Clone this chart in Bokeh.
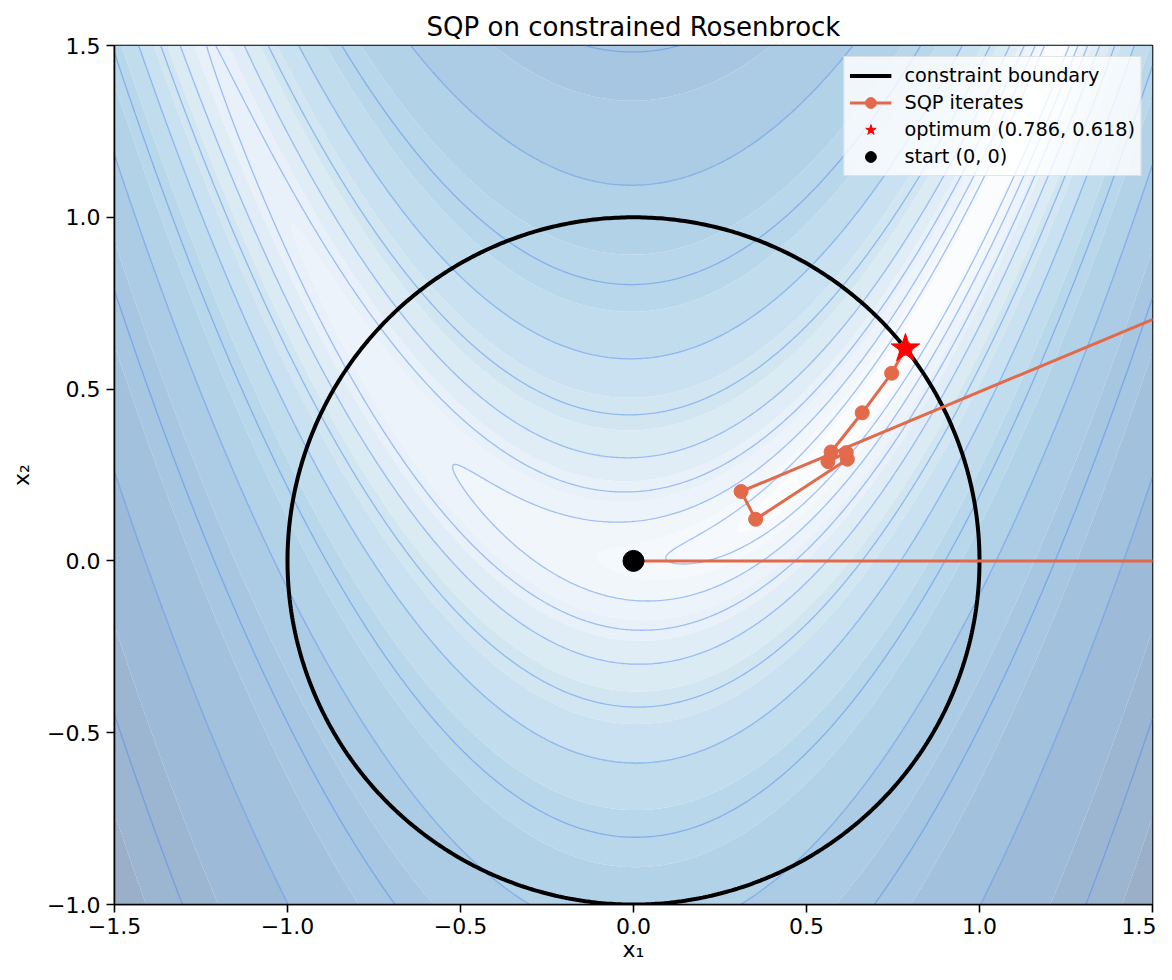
import numpy as np
from bokeh.plotting import figure
from bokeh.models import Range1d, FixedTicker, CustomJSTickFormatter, Legend, LegendItem
from bokeh.palettes import Blues256
from bokeh.embed import file_html
from bokeh.resources import INLINE

# ---- data ----
sqp_x = [0.0, 2.0, 2.0, 0.311, 0.353, 0.618, 0.615, 0.562, 0.571, 0.661, 0.746, 0.786]
sqp_y = [0.0, 0.0, 0.913, 0.202, 0.121, 0.296, 0.315, 0.289, 0.317, 0.431, 0.546, 0.618]
opt_x = [0.786]
opt_y = [0.618]
start_x = [0.0]
start_y = [0.0]
x_ticks = [-1.5, -1.0, -0.5, 0.0, 0.5, 1.0, 1.5]
y_ticks = [-1.0, -0.5, 0.0, 0.5, 1.0, 1.5]
fill_levels = list(np.round(np.arange(0.0, 7.2001, 0.4), 3))
line_levels = list(np.round(np.arange(0.6, 6.6001, 0.6), 3))
alpha = 0.4

# Rosenbrock objective on a grid (log scale)
gx = np.linspace(-1.5, 1.5, 500)
gy = np.linspace(-1.0, 1.5, 500)
GX, GY = np.meshgrid(gx, gy)
Z = np.log1p((1 - GX) ** 2 + 100 * (GY - GX ** 2) ** 2)

# band colours: matplotlib-like Blues, blended with white at alpha
blues = list(Blues256)[::-1]  # light -> dark
def hex2rgb(h):
    h = h.lstrip('#')
    return tuple(int(h[i:i + 2], 16) for i in (0, 2, 4))
band_colors = []
lo, hi = fill_levels[0], fill_levels[-1]
for i in range(len(fill_levels) - 1):
    mid = 0.5 * (fill_levels[i] + fill_levels[i + 1])
    t = (mid - lo) / (hi - lo)
    r, g, b = hex2rgb(blues[int(round(t * 255))])
    rr = round(255 - (255 - r) * alpha)
    gg = round(255 - (255 - g) * alpha)
    bb = round(255 - (255 - b) * alpha)
    band_colors.append('#%02x%02x%02x' % (rr, gg, bb))

FONT = "DejaVu Sans"

p = figure(width=1156, height=964, output_backend="svg", toolbar_location=None,
           x_range=Range1d(-1.5, 1.5), y_range=Range1d(-1.0, 1.5),
           min_border_left=114, min_border_right=4, min_border_top=45, min_border_bottom=54,
           title="SQP on constrained Rosenbrock")
p.title.align = "center"
p.title.text_font = FONT
p.title.text_font_size = "26px"
p.title.text_font_style = "normal"
p.title.text_color = "black"
p.title.standoff = 8
p.grid.visible = False
p.outline_line_color = "black"
p.outline_line_width = 1.6
p.outline_line_alpha = 1.0

p.contour(gx, gy, Z, fill_levels, fill_color=band_colors)
p.contour(gx, gy, Z, line_levels, line_color="#4d8af0", line_alpha=0.5, line_width=1.3)

theta = np.linspace(0, 2 * np.pi, 721)
r_circ = p.line(np.cos(theta), np.sin(theta), line_color="black", line_width=4)

orange = "#e2694a"
r_path = p.line(sqp_x, sqp_y, line_color=orange, line_width=3)
r_dots = p.scatter(sqp_x, sqp_y, marker="circle", size=14, fill_color=orange, line_color=orange)
r_opt = p.scatter(opt_x, opt_y, marker="star", size=30, fill_color="red", line_color="red")
r_start = p.scatter(start_x, start_y, marker="circle", size=21, fill_color="black", line_color="black")

fmt = CustomJSTickFormatter(code="return tick.toFixed(1).replace('-', '\\u2212');")
for ax, ticks, lab in ((p.xaxis[0], x_ticks, "x\u2081"), (p.yaxis[0], y_ticks, "x\u2082")):
    ax.ticker = FixedTicker(ticks=ticks)
    ax.formatter = fmt
    ax.axis_label = lab
    ax.axis_label_text_font = FONT
    ax.axis_label_text_font_size = "22px"
    ax.axis_label_text_font_style = "normal"
    ax.axis_label_text_color = "black"
    ax.major_label_text_font = FONT
    ax.major_label_text_font_size = "22px"
    ax.major_label_text_color = "black"
    ax.major_tick_out = 8
    ax.major_tick_in = 0
    ax.major_tick_line_width = 1.6
    ax.minor_tick_line_color = None
    ax.axis_line_width = 1.6
p.xaxis.major_label_standoff = 5
p.xaxis.axis_label_standoff = 0
p.yaxis.major_label_standoff = 6
p.yaxis.axis_label_standoff = 10

legend = Legend(items=[
    LegendItem(label="constraint boundary", renderers=[r_circ]),
    LegendItem(label="SQP iterates", renderers=[r_path, r_dots]),
    LegendItem(label="optimum (0.786, 0.618)", renderers=[r_opt]),
    LegendItem(label="start (0, 0)", renderers=[r_start]),
], location="top_right")
legend.margin = 11
legend.padding = 5
legend.spacing = 0
legend.glyph_height = 27
legend.label_height = 27
legend.glyph_width = 42
legend.label_standoff = 13
legend.label_text_font = FONT
legend.label_text_font_size = "19.3px"
legend.label_text_color = "black"
legend.border_line_color = "#cccccc"
legend.border_line_width = 1.5
legend.background_fill_color = "white"
legend.background_fill_alpha = 0.8
p.add_layout(legend, "center")

open("out.html", "w").write(file_html(p, INLINE))
